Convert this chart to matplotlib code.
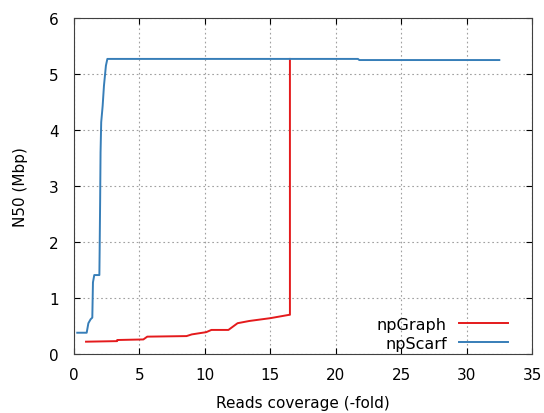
import matplotlib
matplotlib.use("Agg")
import matplotlib.pyplot as plt

# values (coverage, N50 in Mbp)
npgraph_x = [0.92, 3.3, 3.3, 5.3, 5.6, 8.6, 9.0, 10.1, 10.5, 11.8, 12.5, 13.4, 15.0, 16.45, 16.5, 16.5]
npgraph_y = [0.22, 0.23, 0.25, 0.26, 0.31, 0.32, 0.35, 0.39, 0.43, 0.43, 0.55, 0.59, 0.64, 0.70, 0.70, 5.27]

npscarf_x = [0.25, 0.97, 1.1, 1.27, 1.4, 1.45, 1.55, 1.94, 1.96, 2.0, 2.03, 2.08,
             2.19, 2.29, 2.44, 2.55, 21.7, 21.8, 32.5]
npscarf_y = [0.38, 0.38, 0.55, 0.62, 0.65, 1.28, 1.41, 1.41, 1.84, 2.77, 3.6, 4.14,
             4.43, 4.79, 5.15, 5.27, 5.27, 5.25, 5.25]

plt.rcParams['font.family'] = ['DejaVu Sans']
fig = plt.figure(figsize=(5.44, 4.14), dpi=100)
ax = fig.add_axes([0.136, 0.1425, 0.842, 0.8115])

ax.plot(npgraph_x, npgraph_y, color='#e41a1c', lw=1.4, label='npGraph')
ax.plot(npscarf_x, npscarf_y, color='#377eb8', lw=1.4, label='npScarf')

ax.set_xlim(0, 35)
ax.set_ylim(0, 6)
ax.set_xticks(range(0, 36, 5))
ax.set_yticks(range(0, 7))
ax.tick_params(direction='in', top=True, right=True, labelsize=11, length=4)
ax.tick_params(axis='x', pad=9)
ax.tick_params(axis='y', pad=11)
ax.grid(True, color='#a0a0a0', linestyle=(0, (1.5, 2.5)), linewidth=0.8)
for s in ax.spines.values():
    s.set_color('#404040')

ax.set_xlabel('Reads coverage (-fold)', fontsize=11, labelpad=10)
ax.set_ylabel('N50 (Mbp)', fontsize=11, labelpad=15)

leg = ax.legend(loc='lower right', bbox_to_anchor=(0.948, 0.01), frameon=False,
                markerfirst=False, fontsize=11.5, handlelength=3.1, handletextpad=0.75,
                labelspacing=0.25, borderpad=0, borderaxespad=0)

fig.savefig('out.png', dpi=100)
